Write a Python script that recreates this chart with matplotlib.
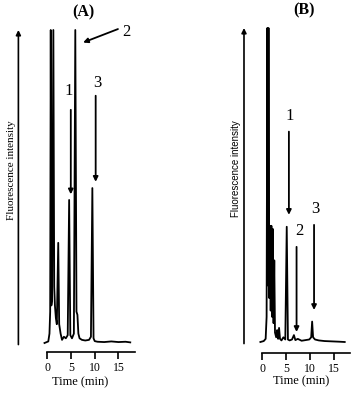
# -*- coding: utf-8 -*-
import matplotlib
matplotlib.use('Agg')
import matplotlib.pyplot as plt

# chromatogram (A): time (min) vs relative fluorescence (0-100, top clipped)
time_a = [-0.6, 0.2, 0.45, 0.6, 0.72, 0.85, 1.0, 1.27, 1.45, 1.6, 1.8, 2.0,
          2.3, 2.5, 2.8, 3.1, 3.5, 3.9, 4.3, 4.6, 4.85, 5.2, 5.6, 5.9,
          6.15, 6.35, 6.55, 6.8, 7.3, 8.0, 8.8, 9.2, 9.5, 9.75, 10.0,
          10.6, 12.0, 13.5, 15.0, 16.5, 17.5]
signal_a = [0.0, 0.5, 3.0, 10.0, 100.0, 12.0, 14.0, 100.0, 18.0, 12.0, 8.0, 6.0,
            32.0, 6.0, 3.0, 1.0, 2.0, 1.5, 2.5, 45.7, 2.5, 1.5, 3.0, 100.0,
            10.0, 9.0, 3.0, 1.5, 1.0, 0.8, 1.0, 2.0, 49.5, 1.5, 0.6,
            0.4, 0.3, 0.5, 0.3, 0.4, 0.2]

# chromatogram (B)
time_b = [-0.4, 0.3, 0.7, 0.9, 1.05, 1.2, 1.3, 1.45, 1.6, 1.75, 1.9, 2.05,
          2.2, 2.35, 2.5, 2.65, 2.9, 3.1, 3.3, 3.5, 3.7, 4.0, 4.4, 4.8,
          5.1, 5.35, 5.7, 6.2, 6.6, 6.9, 7.4, 8.2, 9.0, 9.8, 10.2, 10.4,
          10.6, 11.0, 11.8, 13.0, 14.5, 16.0, 17.2]
signal_b = [0.0, 0.3, 1.0, 8.0, 100.0, 18.0, 100.0, 14.0, 37.0, 10.0, 37.0, 8.0,
            36.0, 6.0, 26.0, 3.0, 1.5, 3.8, 1.0, 4.5, 1.0, 0.5, 1.5, 0.8,
            36.7, 0.8, 0.5, 0.8, 2.2, 0.6, 1.0, 0.4, 0.6, 0.8, 1.5, 6.5,
            1.5, 0.8, 0.5, 0.3, 0.2, 0.1, 0.0]

# peak labels: (label, arrow head (t, h), arrow tail (t, h), text (t, h))
peaks_a = [('1', (4.95, 47.5), (4.95, 74.5), (4.45, 80.5)),
           ('3', (10.2, 51.5), (10.2, 79.0), (10.5, 83.0)),
           ('2', (7.55, 96.0), (14.9, 100.3), (16.7, 99.5))]
peaks_b = [('1', (5.55, 40.5), (5.55, 67.0), (5.8, 72.0)),
           ('2', (7.15, 3.2), (7.15, 30.3), (7.65, 35.5)),
           ('3', (10.8, 10.2), (10.8, 37.3), (11.0, 42.5))]

xticks = [0, 5, 10, 15]

plt.rcParams['font.family'] = ['Liberation Serif', 'DejaVu Serif']
plt.rcParams['axes.linewidth'] = 1.2

fig = plt.figure(figsize=(3.58, 3.94), dpi=100)
W, H = 358.0, 394.0


def make_panel(rect, t, s, peaks, title, xmax, offset, title_x,
               xlabel_x, arrow_x, ylabel_x, ylabel_font, ylabel_size):
    left, bottom, right, top = rect
    ax = fig.add_axes([left / W, 1 - bottom / H, (right - left) / W,
                       (bottom - top) / H])
    ax.plot(t, s, color='black', lw=1.3, clip_on=False)
    ax.set_xlim(-1, xmax)
    ax.set_ylim(0, 100)
    for side in ['left', 'right', 'top']:
        ax.spines[side].set_visible(False)
    ax.spines['bottom'].set_position(('outward', offset))
    ax.spines['bottom'].set_bounds(0, xmax)
    ax.set_xticks(xticks)
    ax.set_yticks([])
    ax.tick_params(axis='x', direction='out', length=5, width=1.2, pad=2.5,
                   labelsize=8.5)
    ax.set_xlabel('Time (min)', fontsize=9)
    ax.xaxis.set_label_coords(xlabel_x, -0.105)

    for label, head, tail, txt in peaks:
        ax.annotate('', xy=head, xytext=tail, annotation_clip=False,
                    arrowprops=dict(arrowstyle='-|>', color='black', lw=1.3,
                                    mutation_scale=7, shrinkA=0, shrinkB=0))
        ax.text(txt[0], txt[1], label, fontsize=12, ha='center',
                va='center', clip_on=False)

    ax.text(title_x, 1.055, title, transform=ax.transAxes, fontsize=11.5,
            fontweight='bold', ha='center', va='center')

    # intensity arrow on the left
    ax.annotate('', xy=(arrow_x, 1.0), xytext=(arrow_x, -0.005),
                xycoords='axes fraction', textcoords='axes fraction',
                arrowprops=dict(arrowstyle='-|>', color='black', lw=1.2,
                                mutation_scale=7, shrinkA=0, shrinkB=0))
    ax.text(ylabel_x, 0.553, 'Fluorescence intensity', transform=ax.transAxes,
            rotation=90, ha='center', va='center', family=ylabel_font,
            fontsize=ylabel_size)
    return ax


make_panel((42.6, 343, 135, 30), time_a, signal_a, peaks_a, '(A)', 18.5, 6.3,
           0.437, 0.405, -0.262, -0.335, ['Liberation Serif', 'DejaVu Serif'], 8)
make_panel((257.5, 342, 350, 28), time_b, signal_b, peaks_b, '(B)', 18.3, 7.7,
           0.503, 0.47, -0.146, -0.23, ['Liberation Sans', 'DejaVu Sans'], 7)

fig.savefig('out.png', dpi=100)
